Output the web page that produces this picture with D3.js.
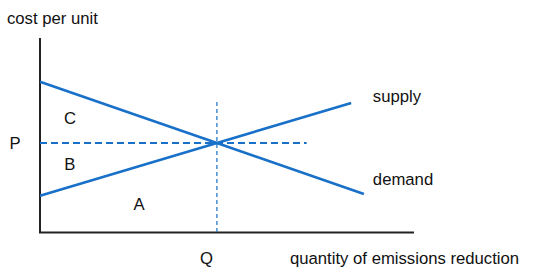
<!DOCTYPE html>
<html>
<head>
<meta charset="utf-8">
<script src="https://cdn.jsdelivr.net/npm/d3@7"></script>
<style>
  body { margin: 0; background: #fff; }
  text { font-family: "Liberation Sans", Arial, sans-serif; font-size: 16.7px; fill: #111; }
</style>
</head>
<body>
<script>
// values in chart units (0-100 on both axes)
const demandPts = [[0, 77.5], [47.3, 46], [86.6, 19.8]];
const supplyPts = [[0, 18.9], [47.3, 46], [83.2, 66.6]];
const eqQ = 47.3, eqP = 46;
const pLineEnd = 71.3;   // horizontal dashed line stops here
const qLineTop = 67.1;   // vertical dashed line starts here
const areaLabels = [
  { name: "C", x: 8, y: 59 },
  { name: "B", x: 8, y: 35 },
  { name: "A", x: 26.5, y: 14.5 }
];
const curveLabels = [
  { name: "supply", x: 89, y: 70 },
  { name: "demand", x: 89, y: 27.5 }
];

const width = 550, height = 275;
const margin = { top: 38, right: 136, bottom: 42.5, left: 40 };
const blue = "#1870c8";

const x = d3.scaleLinear().domain([0, 100]).range([margin.left, width - margin.right]);
const y = d3.scaleLinear().domain([0, 100]).range([height - margin.bottom, margin.top]);

const svg = d3.select("body").append("svg")
  .attr("width", width)
  .attr("height", height);

// axes
svg.append("line")
  .attr("x1", x(0)).attr("x2", x(0))
  .attr("y1", y(100)).attr("y2", y(0))
  .attr("stroke", "#222").attr("stroke-width", 2);
svg.append("line")
  .attr("x1", x(0) - 1).attr("x2", x(100))
  .attr("y1", y(0)).attr("y2", y(0))
  .attr("stroke", "#222").attr("stroke-width", 2);

// dashed reference lines
svg.append("line")
  .attr("x1", x(0)).attr("x2", x(pLineEnd))
  .attr("y1", y(eqP)).attr("y2", y(eqP))
  .attr("stroke", blue).attr("stroke-width", 2)
  .attr("stroke-dasharray", "7,4");
svg.append("line")
  .attr("x1", x(eqQ)).attr("x2", x(eqQ))
  .attr("y1", y(qLineTop)).attr("y2", y(0))
  .attr("stroke", blue).attr("stroke-width", 1.2)
  .attr("stroke-dasharray", "4,3");

const line = d3.line().x(d => x(d[0])).y(d => y(d[1]));

svg.append("path")
  .attr("d", line(demandPts))
  .attr("fill", "none").attr("stroke", blue).attr("stroke-width", 2.6);
svg.append("path")
  .attr("d", line(supplyPts))
  .attr("fill", "none").attr("stroke", blue).attr("stroke-width", 2.6);

// labels
svg.append("text").attr("x", 7).attr("y", 24).text("cost per unit");
svg.append("text").attr("x", 15).attr("y", y(eqP)).attr("dy", "0.35em")
  .attr("text-anchor", "middle").text("P");
svg.append("text").attr("x", x(eqQ) - 10.5).attr("y", 258).attr("dy", "0.35em")
  .attr("text-anchor", "middle").text("Q");
svg.append("text").attr("x", 290).attr("y", 258).attr("dy", "0.35em")
  .text("quantity of emissions reduction");

svg.selectAll(".area-label")
  .data(areaLabels)
  .enter().append("text")
  .attr("class", "area-label")
  .attr("x", d => x(d.x))
  .attr("y", d => y(d.y))
  .attr("dy", "0.35em")
  .attr("text-anchor", "middle")
  .text(d => d.name);

svg.selectAll(".curve-label")
  .data(curveLabels)
  .enter().append("text")
  .attr("class", "curve-label")
  .attr("x", d => x(d.x))
  .attr("y", d => y(d.y))
  .attr("dy", "0.35em")
  .text(d => d.name);
</script>
</body>
</html>
